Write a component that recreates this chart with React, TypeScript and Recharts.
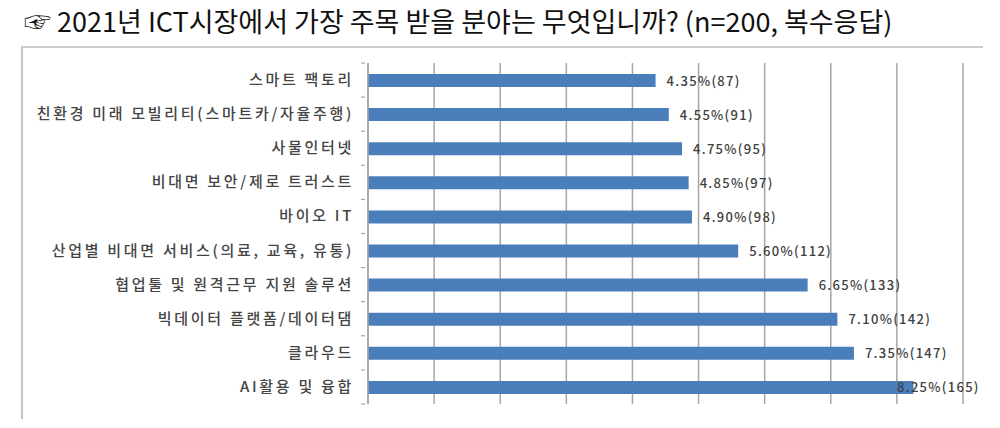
import React from 'react';
import { BarChart, Bar, XAxis, YAxis, CartesianGrid, LabelList } from 'recharts';

const TITLE = '☞ 2021년 ICT시장에서 가장 주목 받을 분야는 무엇입니까? (n=200, 복수응답)';

const categories = [
  '스마트 팩토리',
  '친환경 미래 모빌리티(스마트카/자율주행)',
  '사물인터넷',
  '비대면 보안/제로 트러스트',
  '바이오 IT',
  '산업별 비대면 서비스(의료, 교육, 유통)',
  '협업툴 및 원격근무 지원 솔루션',
  '빅데이터 플랫폼/데이터댐',
  '클라우드',
  'AI활용 및 융합',
];
const percents = [4.35, 4.55, 4.75, 4.85, 4.9, 5.6, 6.65, 7.1, 7.35, 8.25];
const counts = [87, 91, 95, 97, 98, 112, 133, 142, 147, 165];
const xTicks = [0, 1, 2, 3, 4, 5, 6, 7, 8, 9];

const data = categories.map((name, i) => ({ name, pct: percents[i], count: counts[i] }));

const W = 1000;
const H = 428;
const MARGIN = { top: 63, right: 37, bottom: 24, left: 0 };
const AXIS_W = 368;
const BAND = (H - MARGIN.top - MARGIN.bottom) / categories.length;

const LABEL_FONT = '"Noto Sans CJK KR", "Noto Sans", sans-serif';

// category label + small boundary ticks like the excel original
function CategoryTick(props: any) {
  const { x, y, payload, index } = props;
  const half = BAND / 2;
  return (
    <g>
      <line x1={x + 1} x2={x + 5} y1={y - half} y2={y - half} stroke="#a6a6a6" strokeWidth={1.2} />
      {index === categories.length - 1 && (
        <line x1={x + 1} x2={x + 5} y1={y + half} y2={y + half} stroke="#a6a6a6" strokeWidth={1.2} />
      )}
      <text
        x={x - 6}
        y={y}
        dy={5}
        textAnchor="end"
        fontSize={15}
        fontWeight={500}
        letterSpacing={2.7}
        fill="#454545"
        fontFamily={LABEL_FONT}
      >
        {payload.value}
      </text>
    </g>
  );
}

function ValueLabel(props: any) {
  const { x, y, width, height, index } = props;
  const d = data[index];
  const text = `${d.pct.toFixed(2)}%(${d.count})`;
  // excel pulls the last label back inside the plot when it would overflow
  const lx = Math.min(x + width + 11, W - 103);
  return (
    <text
      x={lx}
      y={y + height / 2}
      dy={5}
      fontSize={13}
      fontWeight={500}
      letterSpacing={1.3}
      fill="#404040"
      fontFamily={LABEL_FONT}
    >
      {text}
    </text>
  );
}

export default function App() {
  return (
    <div style={{ position: 'relative', width: W, height: H, background: '#fff', overflow: 'hidden' }}>
      <style>{'body{margin:0}'}</style>
      <div
        style={{
          position: 'absolute',
          left: 24,
          top: 5,
          fontSize: 27,
          lineHeight: '32px',
          fontFamily: '"Noto Sans CJK KR", sans-serif',
          color: '#111',
          whiteSpace: 'nowrap',
        }}
      >
        {TITLE}
      </div>
      <div
        style={{
          position: 'absolute',
          left: 21,
          top: 46,
          width: 960,
          height: 371,
          borderTop: '2px solid #cccccc',
          borderLeft: '2px solid #c4c4c4',
        }}
      />
      <div style={{ position: 'absolute', left: 0, top: 0 }}>
        <BarChart width={W} height={H} data={data} layout="vertical" margin={MARGIN}>
          <CartesianGrid horizontal={false} stroke="#a6a6a6" strokeWidth={1.5} />
          <XAxis type="number" domain={[0, 9]} ticks={xTicks} hide />
          <YAxis
            type="category"
            dataKey="name"
            width={AXIS_W}
            axisLine={{ stroke: '#a6a6a6', strokeWidth: 1.5 }}
            tickLine={false}
            tick={<CategoryTick />}
            interval={0}
          />
          <Bar dataKey="pct" fill="#4a7ebb" barSize={13} isAnimationActive={false}>
            <LabelList dataKey="pct" content={<ValueLabel />} />
          </Bar>
        </BarChart>
      </div>
    </div>
  );
}
